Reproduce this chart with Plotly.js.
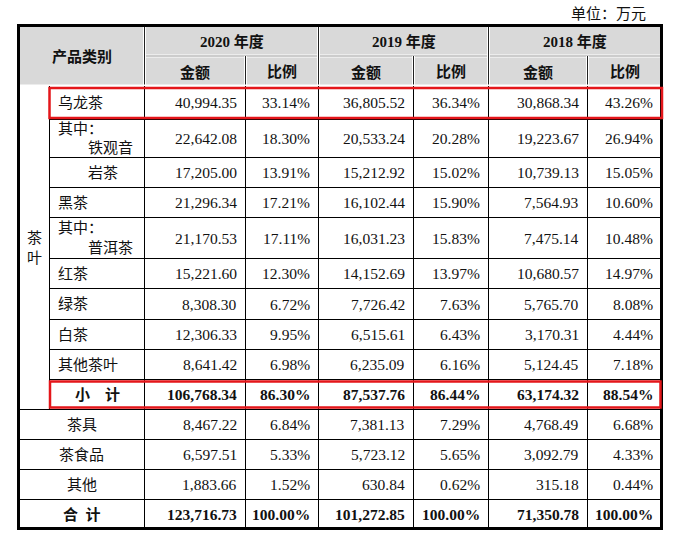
<!DOCTYPE html>
<html>
<head>
<meta charset="utf-8">
<script src="https://cdn.plot.ly/plotly-3.0.1.min.js"></script>
<style>
body { margin: 0; background: #fff; }
#plotDiv { width: 674px; height: 536px; }
</style>
</head>
<body>
<div id="plotDiv"></div>
<script>
// table values (单位：万元)
var categories = ['乌龙茶', '铁观音', '岩茶', '黑茶', '普洱茶', '红茶', '绿茶', '白茶', '其他茶叶', '小\u3000计', '茶具', '茶食品', '其他', '合\u2002计'];
var categoryPrefix = ['', '其中：', '', '', '其中：', '', '', '', '', '', '', '', '', ''];
var groupLabel = '茶<br>叶';
var years = ['2020 年度', '2019 年度', '2018 年度'];
var subHeaders = ['金额', '比例'];
var unitText = '单位：万元';
var headerLabel = '产品类别';

var amount2020 = [40994.35, 22642.08, 17205.00, 21296.34, 21170.53, 15221.60, 8308.30, 12306.33, 8641.42, 106768.34, 8467.22, 6597.51, 1883.66, 123716.73];
var ratio2020 = [33.14, 18.30, 13.91, 17.21, 17.11, 12.30, 6.72, 9.95, 6.98, 86.30, 6.84, 5.33, 1.52, 100.00];
var amount2019 = [36805.52, 20533.24, 15212.92, 16102.44, 16031.23, 14152.69, 7726.42, 6515.61, 6235.09, 87537.76, 7381.13, 5723.12, 630.84, 101272.85];
var ratio2019 = [36.34, 20.28, 15.02, 15.90, 15.83, 13.97, 7.63, 6.43, 6.16, 86.44, 7.29, 5.65, 0.62, 100.00];
var amount2018 = [30868.34, 19223.67, 10739.13, 7564.93, 7475.14, 10680.57, 5765.70, 3170.31, 5124.45, 63174.32, 4768.49, 3092.79, 315.18, 71350.78];
var ratio2018 = [43.26, 26.94, 15.05, 10.60, 10.48, 14.97, 8.08, 4.44, 7.18, 88.54, 6.68, 4.33, 0.44, 100.00];

// grid geometry (pixels, same as axis units)
var colEdges = [18.5, 144.5, 245.5, 318.5, 413.5, 488.5, 587.5, 661.5];
var teaColEdge = 49.5;
var headerEdges = [25.5, 56, 86];
var rowEdges = [86, 119.5, 157.5, 187.5, 217.5, 258.5, 288.5, 319.5, 349.5, 379.5, 409.5, 439.5, 469.5, 499.5, 528.5];
// how each category cell is placed
var rowKind = ['main', 'split', 'sub', 'main', 'split', 'main', 'main', 'main', 'main', 'subtotal', 'outer', 'outer', 'outer', 'total'];

var serif = '"Liberation Serif", "Times New Roman", "Noto Sans CJK SC", serif';
var textColor = '#111';
var headerFill = '#d9d9d9';
var redBox = 'rgb(228,22,26)';

function fmtAmount(v) {
    return v.toLocaleString('en-US', {minimumFractionDigits: 2, maximumFractionDigits: 2});
}

function fmtRatio(v) {
    return v.toFixed(2) + '%';
}

var annotations = [];
var shapes = [];

function addText(txt, x, y, anchor, bold, size) {
    annotations.push({
        x: x, y: y, xref: 'x', yref: 'y',
        text: txt, showarrow: false,
        xanchor: anchor, yanchor: 'middle',
        borderpad: 0, borderwidth: 0,
        font: {family: serif, size: size || 15.5, color: textColor, weight: bold ? 'bold' : 'normal'}
    });
}

function addLine(x0, y0, x1, y1, color, width) {
    shapes.push({
        type: 'line', xref: 'x', yref: 'y',
        x0: x0, y0: y0, x1: x1, y1: y1,
        line: {color: color, width: width}
    });
}

function addRect(x0, y0, x1, y1, fill, color, width) {
    shapes.push({
        type: 'rect', xref: 'x', yref: 'y',
        x0: x0, y0: y0, x1: x1, y1: y1,
        fillcolor: fill, line: {color: color, width: width}
    });
}

function buildTable() {
    var left = colEdges[0], right = colEdges[colEdges.length - 1];
    var bottom = rowEdges[rowEdges.length - 1];

    // header background with white gaps around separators
    addRect(left, headerEdges[0], right, headerEdges[2] - 0.5, headerFill, 'rgba(0,0,0,0)', 0);
    var headerVert = [[colEdges[1], headerEdges[0]], [colEdges[2], headerEdges[1]], [colEdges[3], headerEdges[0]],
        [colEdges[4], headerEdges[1]], [colEdges[5], headerEdges[0]], [colEdges[6], headerEdges[1]]];
    addLine(colEdges[1], headerEdges[1], right, headerEdges[1], '#fff', 3);
    addLine(colEdges[1], headerEdges[1], right, headerEdges[1], '#999', 1);
    headerVert.forEach(function (v) {
        addLine(v[0], v[1], v[0], headerEdges[2], '#fff', 3);
        addLine(v[0], v[1], v[0], headerEdges[2], '#222', 1);
    });
    addLine(left, headerEdges[2] - 0.5, right, headerEdges[2] - 0.5, '#fff', 2);

    // body grid
    for (var c = 1; c < colEdges.length - 1; c++) {
        addLine(colEdges[c], headerEdges[2], colEdges[c], bottom, '#000', 1);
    }
    addLine(teaColEdge, headerEdges[2], teaColEdge, rowEdges[10], '#000', 1);
    for (var r = 1; r < rowEdges.length - 1; r++) {
        var x0 = r < 10 ? teaColEdge : left;
        addLine(x0, rowEdges[r], right, rowEdges[r], '#000', 1);
    }

    // outer frame
    addRect(left, headerEdges[0], right, bottom, 'rgba(0,0,0,0)', '#000', 3);

    // highlight boxes
    addRect(teaColEdge, rowEdges[0] + 2, right + 0.5, rowEdges[1] - 1.5, 'rgba(0,0,0,0)', redBox, 2.5);
    addRect(teaColEdge + 0.5, rowEdges[9] + 2, right - 1, rowEdges[10] - 2, 'rgba(0,0,0,0)', redBox, 2.5);

    // header text
    addText(unitText, 646, 14, 'right', false, 15);
    addText(headerLabel, (colEdges[0] + colEdges[1]) / 2, 57, 'center', true, 15);
    for (var y = 0; y < years.length; y++) {
        var ca = colEdges[1 + 2 * y], cb = colEdges[2 + 2 * y], cc = colEdges[3 + 2 * y];
        addText(years[y], (ca + cc) / 2, 41, 'center', true, 15);
        addText(subHeaders[0], (ca + cb) / 2, 72, 'center', true, 15);
        addText(subHeaders[1], (cb + cc) / 2, 72, 'center', true, 15);
    }

    // group label
    addText(groupLabel, (left + teaColEdge) / 2, (rowEdges[0] + rowEdges[10]) / 2, 'center', false, 15);

    // rows
    var valueCols = [amount2020, ratio2020, amount2019, ratio2019, amount2018, ratio2018];
    for (var i = 0; i < categories.length; i++) {
        var yc = (rowEdges[i] + rowEdges[i + 1]) / 2;
        var bold = rowKind[i] === 'subtotal' || rowKind[i] === 'total';
        var kind = rowKind[i];
        if (kind === 'main') {
            addText(categories[i], teaColEdge + 8.5, yc, 'left', false, 15);
        } else if (kind === 'sub') {
            addText(categories[i], teaColEdge + 38.5, yc, 'left', false, 15);
        } else if (kind === 'split') {
            addText(categoryPrefix[i], teaColEdge + 8.5, yc - 10, 'left', false, 15);
            addText(categories[i], teaColEdge + 38.5, yc + 9.5, 'left', false, 15);
        } else if (kind === 'subtotal') {
            addText(categories[i], (teaColEdge + colEdges[1]) / 2, yc, 'center', true, 15);
        } else {
            addText(categories[i], (left + colEdges[1]) / 2, yc, 'center', bold, 15);
        }
        for (var k = 0; k < valueCols.length; k++) {
            var v = valueCols[k][i];
            var txt = k % 2 === 0 ? fmtAmount(v) : fmtRatio(v);
            addText(txt, colEdges[k + 2] - 8.5, yc, 'right', bold, 15.5);
        }
    }
}

function initializePlotDiv() {
    buildTable();
    var plotDiv = document.getElementById('plotDiv');
    var layoutOpt = {
        width: 674,
        height: 536,
        margin: {l: 0, r: 0, t: 0, b: 0, pad: 0},
        paper_bgcolor: '#fff',
        plot_bgcolor: '#fff',
        showlegend: false,
        xaxis: {range: [0, 674], visible: false, fixedrange: true},
        yaxis: {range: [536, 0], visible: false, fixedrange: true},
        shapes: shapes,
        annotations: annotations
    };
    Plotly.newPlot(plotDiv, [{x: [], y: [], type: 'scatter', mode: 'markers', hoverinfo: 'skip'}], layoutOpt, {displayModeBar: false, staticPlot: true});
}

initializePlotDiv();
</script>
</body>
</html>
